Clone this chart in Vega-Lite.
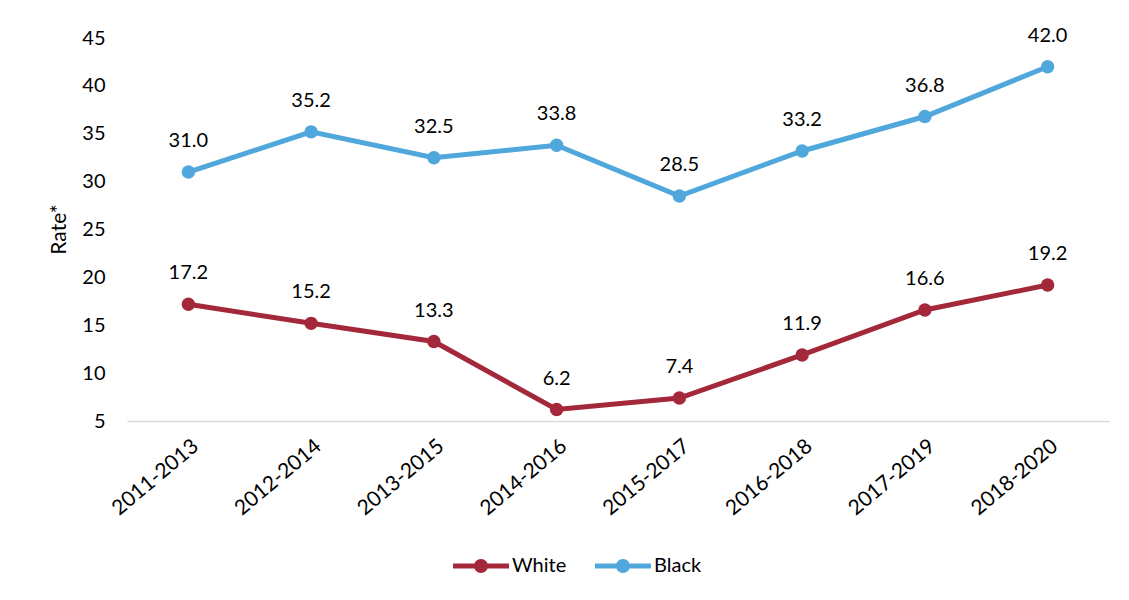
{
  "$schema": "https://vega.github.io/schema/vega-lite/v6.json",
  "width": 982,
  "height": 383,
  "autosize": {"type": "none"},
  "padding": {"left": 127, "top": 38, "right": 20, "bottom": 179},
  "background": "white",
  "title": {
    "text": "Rate*",
    "orient": "left",
    "anchor": "middle",
    "font": "Lato",
    "fontSize": 21,
    "fontWeight": "normal",
    "color": "#000000",
    "offset": 12
  },
  "config": {
    "view": {"stroke": null},
    "font": "Lato",
    "axis": {"labelFont": "Lato", "labelColor": "#000000"},
    "legend": {"labelFont": "Lato"}
  },
  "data": {
    "values": [
      {"period": "2011-2013", "race": "White", "rate": 17.2},
      {"period": "2012-2014", "race": "White", "rate": 15.2},
      {"period": "2013-2015", "race": "White", "rate": 13.3},
      {"period": "2014-2016", "race": "White", "rate": 6.2},
      {"period": "2015-2017", "race": "White", "rate": 7.4},
      {"period": "2016-2018", "race": "White", "rate": 11.9},
      {"period": "2017-2019", "race": "White", "rate": 16.6},
      {"period": "2018-2020", "race": "White", "rate": 19.2},
      {"period": "2011-2013", "race": "Black", "rate": 31.0},
      {"period": "2012-2014", "race": "Black", "rate": 35.2},
      {"period": "2013-2015", "race": "Black", "rate": 32.5},
      {"period": "2014-2016", "race": "Black", "rate": 33.8},
      {"period": "2015-2017", "race": "Black", "rate": 28.5},
      {"period": "2016-2018", "race": "Black", "rate": 33.2},
      {"period": "2017-2019", "race": "Black", "rate": 36.8},
      {"period": "2018-2020", "race": "Black", "rate": 42.0}
    ]
  },
  "encoding": {
    "x": {
      "field": "period",
      "type": "ordinal",
      "sort": null,
      "scale": {"type": "point", "padding": 0.5},
      "axis": {
        "title": null,
        "labelAngle": -40,
        "labelFontSize": 21,
        "labelPadding": 14,
        "ticks": false,
        "domainColor": "#d9d9d9",
        "domainWidth": 1.5,
        "grid": false
      }
    },
    "y": {
      "field": "rate",
      "type": "quantitative",
      "scale": {"domain": [5, 45], "zero": false, "nice": false},
      "axis": {
        "title": null,
        "values": [5, 10, 15, 20, 25, 30, 35, 40, 45],
        "labelFontSize": 20,
        "labelPadding": 22,
        "ticks": false,
        "domain": false,
        "grid": false
      }
    },
    "color": {
      "field": "race",
      "type": "nominal",
      "scale": {"domain": ["White", "Black"], "range": ["#A3293A", "#4FA7DB"]},
      "legend": {
        "title": null,
        "orient": "none",
        "direction": "horizontal",
        "legendX": 326,
        "legendY": 500,
        "labelFontSize": 20,
        "labelColor": "#000000",
        "symbolType": "M-1,-0.09L1,-0.09L1,0.09L-1,0.09Z M0.25,0A0.25,0.25,0,1,1,-0.25,0A0.25,0.25,0,1,1,0.25,0Z",
        "symbolSize": 3136,
        "symbolStrokeWidth": 0,
        "symbolOpacity": 1,
        "columnPadding": 28,
        "labelOffset": 3
      }
    }
  },
  "layer": [
    {"mark": {"type": "line", "strokeWidth": 5}},
    {"mark": {"type": "point", "filled": true, "size": 180, "opacity": 1}},
    {
      "mark": {"type": "text", "fontSize": 20, "dy": -25, "baseline": "alphabetic", "color": "#000000"},
      "encoding": {
        "text": {"field": "rate", "type": "quantitative", "format": ".1f"},
        "color": {"value": "#000000"}
      }
    }
  ]
}
